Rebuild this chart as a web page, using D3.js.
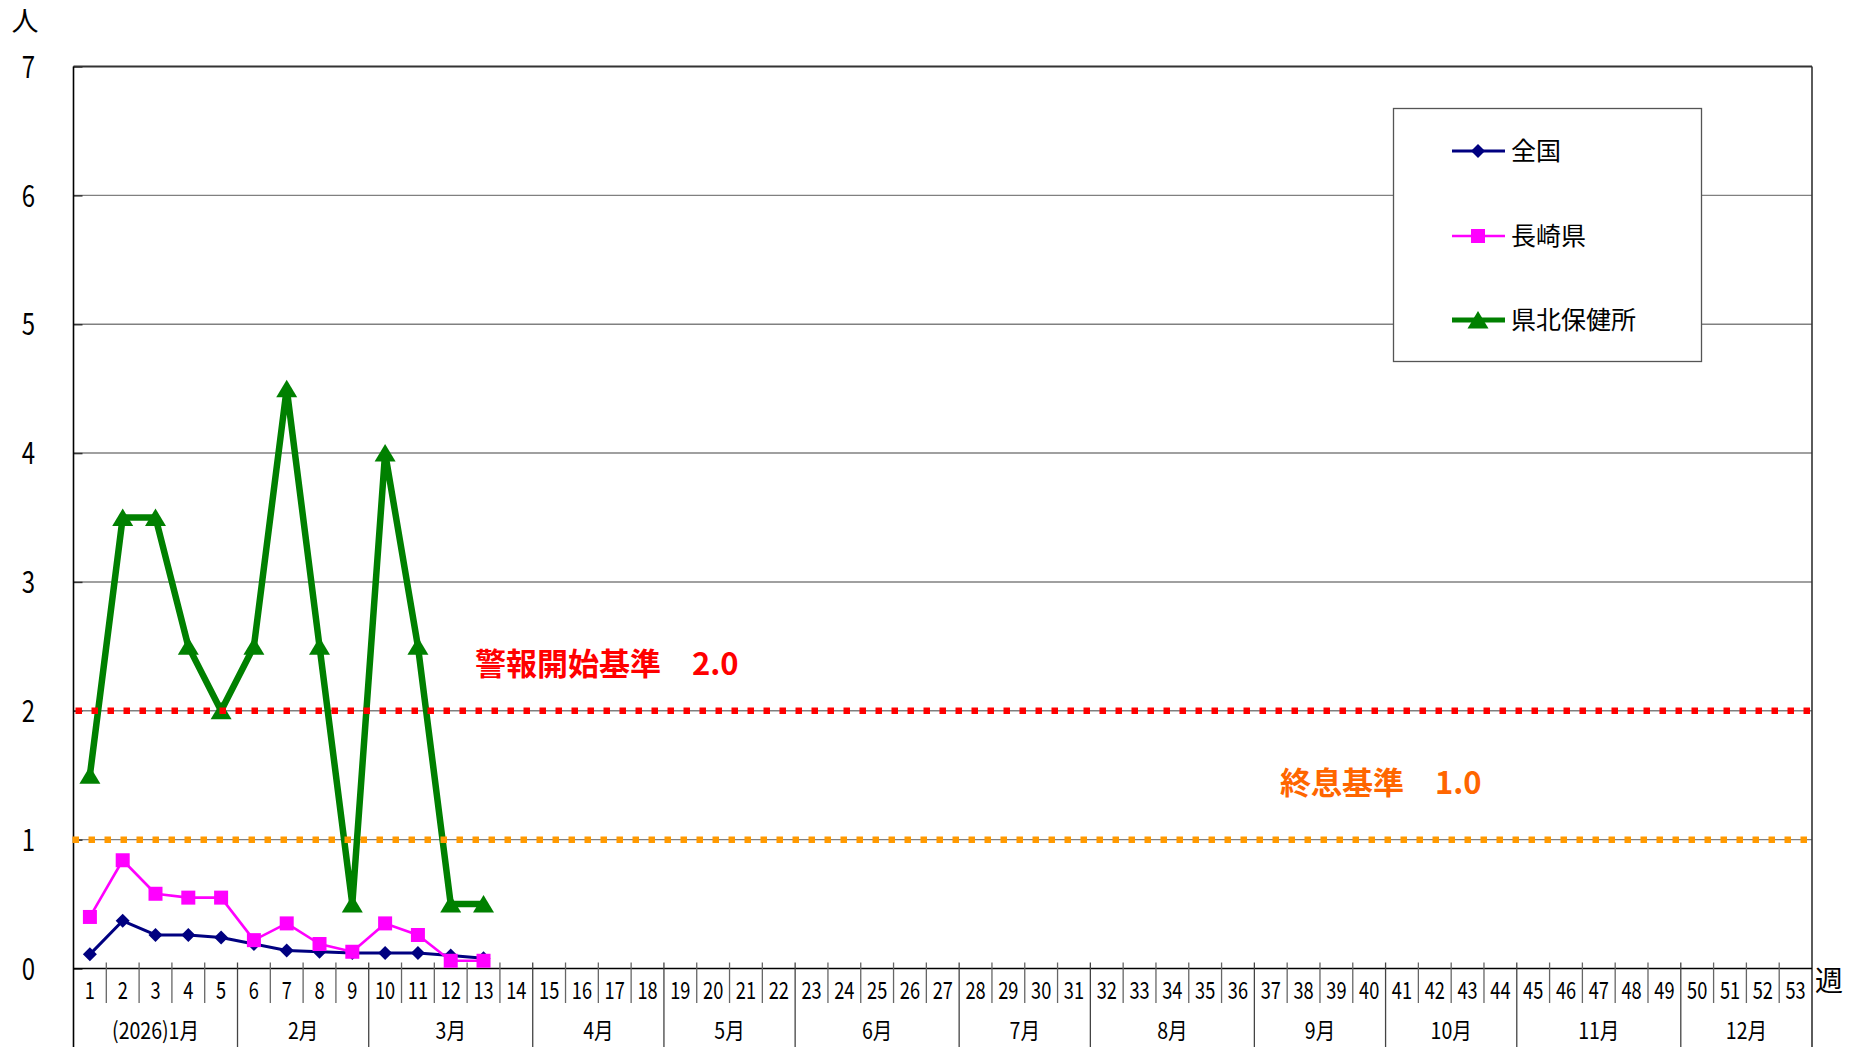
<!DOCTYPE html>
<html><head><meta charset="utf-8">
<script src="https://cdn.jsdelivr.net/npm/d3@7"></script>
<style>body{margin:0;background:#fff}svg{display:block;font-family:'Noto Sans CJK JP','Noto Sans',sans-serif}</style>
</head><body><svg id="c" width="1862" height="1047"></svg>
<script>
// ---- data ----
const weeks=[1,2,3,4,5,6,7,8,9,10,11,12,13,14,15,16,17,18,19,20,21,22,23,24,25,26,27,28,29,30,31,32,33,34,35,36,37,38,39,40,41,42,43,44,45,46,47,48,49,50,51,52,53];
const monthLabels=["(2026)1月","2月","3月","4月","5月","6月","7月","8月","9月","10月","11月","12月"];
const monthWeekCounts=[5,4,5,4,4,5,4,5,4,4,5,4];
const yTicks=[0,1,2,3,4,5,6,7];
const seriesNames=["全国","長崎県","県北保健所"];
const national=[0.11,0.37,0.26,0.26,0.24,0.19,0.14,0.13,0.12,0.12,0.12,0.10,0.08];
const nagasaki=[0.40,0.84,0.58,0.55,0.55,0.22,0.35,0.19,0.13,0.35,0.26,0.06,0.06];
const kenhoku=[1.5,3.5,3.5,2.5,2.0,2.5,4.5,2.5,0.5,4.0,2.5,0.5,0.5];
const alertLevel=2.0, endLevel=1.0;
const alertLabel="警報開始基準　2.0", endLabel="終息基準　1.0";
const yUnit="人", xUnit="週";

// ---- layout ----
const svg=d3.select("#c");
const W=1862,H=1047,L=73.5,R=1812,T=66.5,B=968.5;
const x=d3.scaleBand().domain(weeks).range([L,R]).padding(0);
const y=d3.scaleLinear().domain([0,7]).range([B,T]);
const bw=x.bandwidth();
const cx=w=>x(w)+bw/2;

// gridlines
svg.append("g").selectAll("line").data(yTicks.filter(v=>v>0&&v<7)).join("line")
  .attr("x1",L).attr("x2",R).attr("y1",d=>y(d)).attr("y2",d=>y(d))
  .attr("stroke","#808080").attr("stroke-width",1.4);

// y axis
const gy=svg.append("g").attr("transform",`translate(${L},0)`)
  .call(d3.axisLeft(y).tickValues(yTicks).tickSize(-9).tickPadding(0).tickFormat(d3.format("d")));
gy.attr("font-family",null).attr("font-size",null);
gy.select(".domain").remove();
gy.selectAll(".tick line").attr("stroke","#333").attr("stroke-width",1.5);
gy.selectAll(".tick text").attr("x",null).attr("dy",null).attr("text-anchor","middle")
  .attr("dominant-baseline","central").attr("transform","translate(-45,-2.5) scale(0.8,1)")
  .style("font-size","30px").attr("fill","#000");

// borders
svg.append("line").attr("x1",L).attr("x2",R).attr("y1",T).attr("y2",T).attr("stroke","#333").attr("stroke-width",2);
svg.append("line").attr("x1",R).attr("x2",R).attr("y1",T).attr("y2",H).attr("stroke","#333").attr("stroke-width",1.6);
svg.append("line").attr("x1",L).attr("x2",L).attr("y1",T).attr("y2",H).attr("stroke","#000").attr("stroke-width",1.6);
svg.append("line").attr("x1",L).attr("x2",R).attr("y1",B).attr("y2",B).attr("stroke","#000").attr("stroke-width",1.6);

// month boundaries
const monthStarts=[];let acc=0;
monthWeekCounts.forEach(c=>{monthStarts.push(acc);acc+=c;});
const monthBoundaryIdx=new Set(monthStarts.slice(1));

// week separators
svg.append("g").selectAll("line").data(weeks.slice(1)).join("line")
  .attr("x1",d=>x(d)).attr("x2",d=>x(d))
  .attr("y1",B-6).attr("y2",(d,i)=>monthBoundaryIdx.has(i+1)?H:1003)
  .attr("stroke",(d,i)=>monthBoundaryIdx.has(i+1)?"#444":"#666").attr("stroke-width",1.3);

// week labels via axis
const gx=svg.append("g").attr("transform",`translate(0,${B})`)
  .call(d3.axisBottom(x).tickSize(0).tickPadding(0));
gx.attr("font-family",null).attr("font-size",null);
gx.select(".domain").remove();
gx.selectAll(".tick text").attr("y",null).attr("dy",null).attr("dominant-baseline","central")
  .attr("transform","translate(0,20) scale(0.76,1)").style("font-size","24px").attr("fill","#000");

// month labels
svg.append("g").selectAll("text").data(monthLabels).join("text")
  .attr("transform",(d,i)=>{const a=weeks[monthStarts[i]],b=weeks[monthStarts[i]+monthWeekCounts[i]-1];
     return `translate(${(x(a)+x(b)+bw)/2},1029) scale(0.85,1)`;})
  .attr("text-anchor","middle").attr("dominant-baseline","central").style("font-size","23px").text(d=>d);

// units
svg.append("text").attr("x",25).attr("y",19).attr("text-anchor","middle").attr("dominant-baseline","central").style("font-size","27px").text(yUnit);
svg.append("text").attr("x",1829).attr("y",979).attr("text-anchor","middle").attr("dominant-baseline","central").style("font-size","28px").text(xUnit);

// series
const diamond="M0,-7L7,0L0,7L-7,0Z", tri="M0,-9L10.5,8.5L-10.5,8.5Z";
const series=[
 {name:seriesNames[0],vals:national,color:"#000080",w:3,marker:"diamond"},
 {name:seriesNames[1],vals:nagasaki,color:"#FF00FF",w:2.6,marker:"square"},
 {name:seriesNames[2],vals:kenhoku,color:"#008000",w:6.5,marker:"tri"}
];
const line=d3.line().x((d,i)=>cx(weeks[i])).y(d=>y(d));
function drawMarker(g,m,color){
  if(m==="square") g.append("rect").attr("x",-7).attr("y",-7).attr("width",14).attr("height",14).attr("fill",color);
  else g.append("path").attr("d",m==="diamond"?diamond:tri).attr("fill",color);
}
series.forEach(s=>{
  svg.append("path").datum(s.vals).attr("d",line).attr("fill","none").attr("stroke",s.color)
    .attr("stroke-width",s.w).attr("stroke-linejoin","round");
  s.vals.forEach((v,i)=>{
    const g=svg.append("g").attr("transform",`translate(${cx(weeks[i])},${y(v)})`);
    drawMarker(g,s.marker,s.color);
  });
});

// threshold lines
svg.append("line").attr("x1",L+2).attr("x2",R).attr("y1",y(alertLevel)).attr("y2",y(alertLevel))
  .attr("stroke","#FF0000").attr("stroke-width",6.5).attr("stroke-dasharray","6.5,9.5");
svg.append("line").attr("x1",L-1).attr("x2",R).attr("y1",y(endLevel)).attr("y2",y(endLevel))
  .attr("stroke","#FF9900").attr("stroke-width",6.5).attr("stroke-dasharray","6.5,9.5");
svg.append("text").attr("x",475).attr("y",661).attr("dominant-baseline","central")
  .style("font-size","31px").style("font-weight","bold").attr("fill","#FF0000").text(alertLabel);
svg.append("text").attr("x",1280).attr("y",780).attr("dominant-baseline","central")
  .style("font-size","31px").style("font-weight","bold").attr("fill","#FF6600").text(endLabel);

// legend
const lg=svg.append("g");
lg.append("rect").attr("x",1393.5).attr("y",108.5).attr("width",308).attr("height",253)
  .attr("fill","#fff").attr("stroke","#555").attr("stroke-width",1.3);
const rowsY=[151,236,320];
series.forEach((s,i)=>{
  lg.append("line").attr("x1",1452).attr("x2",1505).attr("y1",rowsY[i]).attr("y2",rowsY[i])
    .attr("stroke",s.color).attr("stroke-width",s.w===6.5?5:s.w);
  const g=lg.append("g").attr("transform",`translate(1478,${rowsY[i]})`);
  drawMarker(g,s.marker,s.color);
  lg.append("text").attr("x",1511).attr("y",rowsY[i]-2).attr("dominant-baseline","central")
    .style("font-size","25px").text(s.name);
});
</script></body></html>
